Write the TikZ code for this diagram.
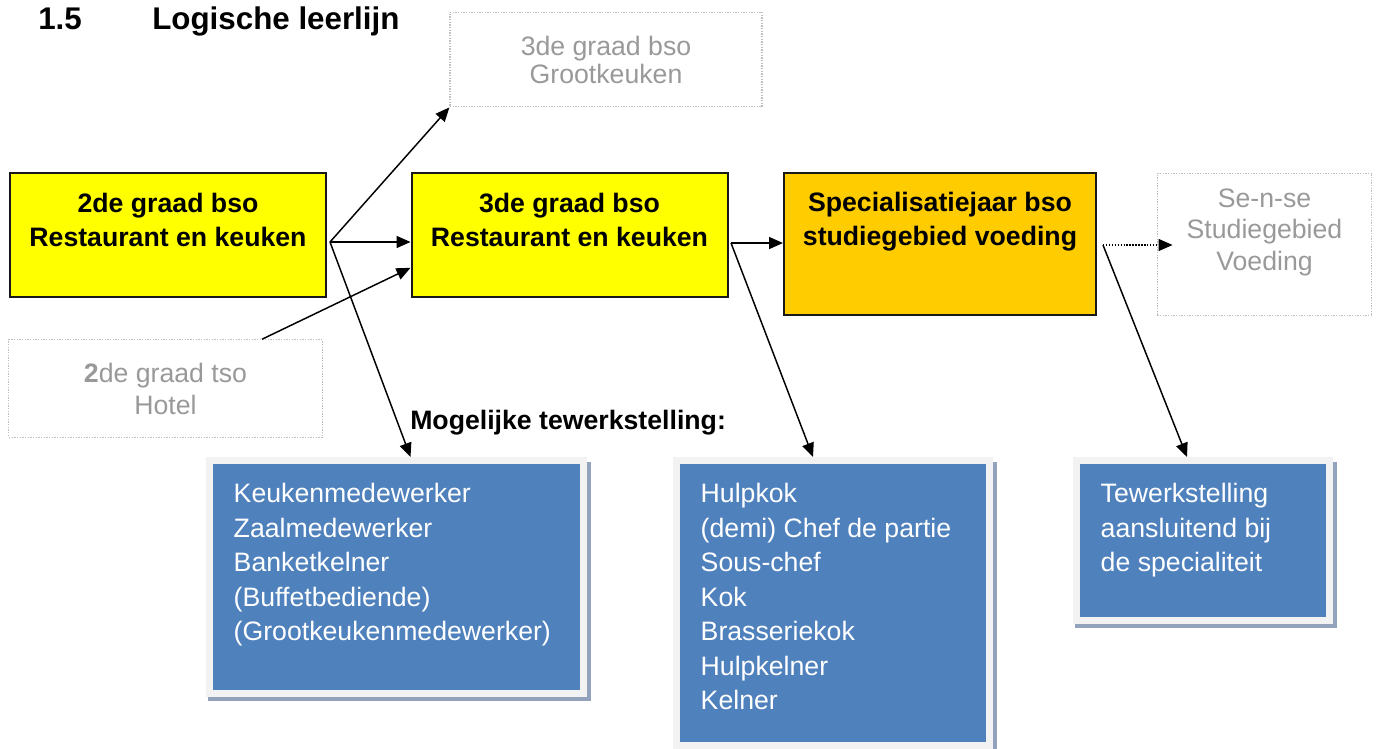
\documentclass[tikz,border=0pt]{standalone}
\usepackage{fontspec}
\setmainfont{Liberation Sans}
\usetikzlibrary{arrows.meta, positioning, backgrounds}

\definecolor{bsoyellow}{HTML}{FFFF00}
\definecolor{specorange}{HTML}{FFCC00}
\definecolor{jobblue}{HTML}{4F81BD}
\definecolor{jobrim}{HTML}{F2F2F2}
\definecolor{jobshade}{HTML}{93A3BD}
\definecolor{fadedtext}{HTML}{999999}
\definecolor{fadedline}{HTML}{BFBFBF}

\begin{document}
\begin{tikzpicture}[x=0.75pt, y=-0.75pt, every node/.style={inner sep=0},
    title/.style={font=\fontsize{23.5}{28}\selectfont\bfseries, anchor=base west},
    stage/.style={draw=black!90, line width=1.5pt, minimum width=237pt, minimum height=93pt},
    boldtxt/.style={font=\fontsize{20}{25.5}\selectfont\bfseries, align=center},
    ghost/.style={draw=fadedline, line width=0.9pt, dash pattern=on 1pt off 1pt, text=fadedtext,
      font=\fontsize{20}{24}\selectfont, align=center},
    ghosttxt/.style={text=fadedtext, font=\fontsize{20}{23.6}\selectfont, align=center},
    jobs/.style={fill=jobblue, draw=jobrim, line width=5.25pt},
    joblist/.style={text=white, font=\fontsize{20}{25.9}\selectfont, align=left},
    route/.style={line width=1.1pt, -{Triangle[length=10.5pt, width=9pt]}}]
  \useasboundingbox (0,0) rectangle (1379,749);

  \node[title] (secnum) at (38,30) {1.5};
  \node[title] (sectitle) at (152,30) {Logische leerlijn};

  \node[stage, fill=bsoyellow] (bsoA) at (168,235) {};
  \node[stage, fill=bsoyellow] (bsoB) at (569.5,234.5) {};
  \node[stage, fill=specorange, minimum width=234pt, minimum height=106.5pt] (spec) at (940,244) {};
  \node[boldtxt, below=16pt of bsoA.north] (bsoAtxt) {2de graad bso\\Restaurant en keuken};
  \node[boldtxt, below=16pt of bsoB.north] (bsoBtxt) {3de graad bso\\Restaurant en keuken};
  \node[boldtxt, below=14.7pt of spec.north] (spectxt) {Specialisatiejaar bso\\studiegebied voeding};

  \node[ghost, minimum width=234pt, minimum height=71pt, font=\fontsize{20}{21}\selectfont] (grootk) at (606,59.5)
    {3de graad bso\\Grootkeuken};
  \node[ghost, minimum width=235pt, minimum height=73pt] (tso) at (165.5,388.5) {\textbf{2}de graad tso\\Hotel};
  \node[ghost, minimum width=161pt, minimum height=107pt] (sense) at (1264.5,244.5) {};
  \node[ghosttxt, below=12pt of sense.north] (sensetxt) {Se-n-se\\Studiegebied\\Voeding};

  \node[boldtxt, anchor=base west] (jobshead) at (410,429) {Mogelijke tewerkstelling:};

  \node[jobs, minimum width=280.5pt, minimum height=174.75pt] (jobsA) at (396.5,577) {};
  \node[jobs, minimum width=234.75pt, minimum height=213.75pt] (jobsB) at (833,603) {};
  \node[jobs, minimum width=189.75pt, minimum height=120pt] (jobsC) at (1203,540.5) {};
  \node[joblist, below right=19.5pt and 20.6pt of jobsA.north west] (jobsAtxt)
    {Keukenmedewerker\\Zaalmedewerker\\Banketkelner\\(Buffetbediende)\\(Grootkeukenmedewerker)};
  \node[joblist, below right=19.5pt and 20.6pt of jobsB.north west] (jobsBtxt)
    {Hulpkok\\(demi) Chef de partie\\Sous-chef\\Kok\\Brasseriekok\\Hulpkelner\\Kelner};
  \node[joblist, below right=19.5pt and 20.6pt of jobsC.north west] (jobsCtxt)
    {Tewerkstelling\\aansluitend bij\\de specialiteit};

  \begin{scope}[on background layer]
    \foreach \jb in {jobsA,jobsB,jobsC}
      \fill[jobshade] ([shift={(2,4)}]\jb.south west) rectangle ([shift={(3.5,5)}]\jb.north east);
  \end{scope}

  \coordinate (forkA) at ([shift={(2.25pt,-5.25pt)}]bsoA.east);
  \coordinate (forkB) at ([shift={(1.9pt,-6.4pt)}]bsoB.east);
  \coordinate (forkC) at ([shift={(4.5pt,-0.75pt)}]spec.east);
  \path (forkC -| sense.west) ++(12pt,0) coordinate (senseIn);

  \draw[route] (forkA) -- (grootk.south west);
  \draw[route] (forkA) -- (forkA -| bsoB.west);
  \draw[route] (forkA) -- (jobsA.north -| bsoB.west);
  \draw[route] ([xshift=72.4pt]tso.north) -- ([yshift=-25pt]bsoB.west);
  \draw[route] (forkB) -- (forkB -| spec.west);
  \draw[route] (forkB) -- ([xshift=-15pt]jobsB.north);
  \draw[route, line width=0.9pt, dash pattern=on 1.1pt off 1.1pt] (forkC) -- (senseIn);
  \draw[route] (forkC) -- ([xshift=-12pt]jobsC.north);
\end{tikzpicture}
\end{document}
